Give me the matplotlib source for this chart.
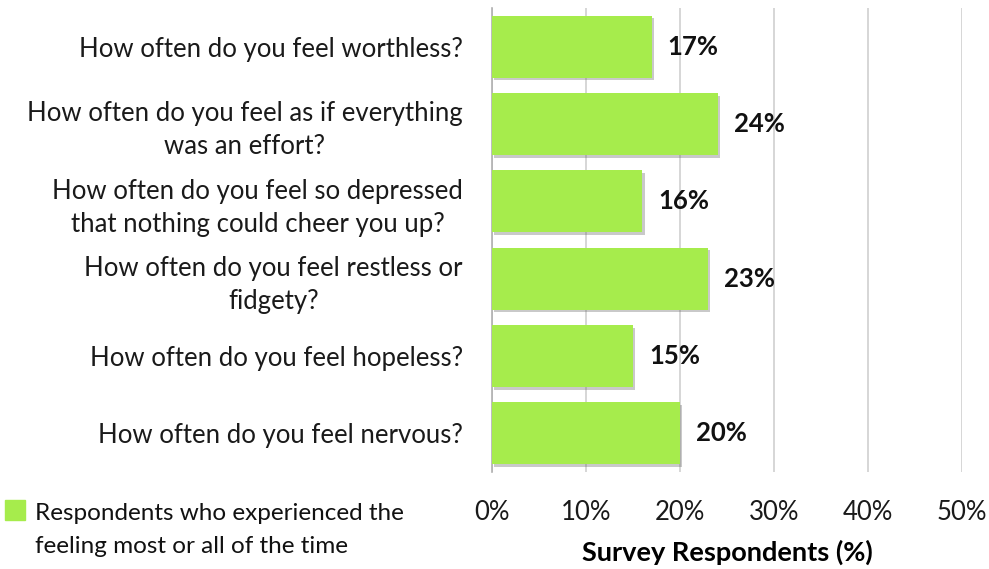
import numpy as np
import matplotlib.pyplot as plt
import matplotlib.patheffects as pe
from matplotlib.patches import Rectangle

# --- Data ---
questions = [
    "How often do you feel worthless?",
    "How often do you feel as if everything\nwas an effort?",
    "How often do you feel so depressed\nthat nothing could cheer you up?",
    "How often do you feel restless or\nfidgety?",
    "How often do you feel hopeless?",
    "How often do you feel nervous?",
]
values = [17, 24, 16, 23, 15, 20]
xticks = [0, 10, 20, 30, 40, 50]

plt.rcParams["font.family"] = ["Lato", "DejaVu Sans"]

fig = plt.figure(figsize=(9.89, 5.69), dpi=100)
ax = fig.add_axes([0.4975, 0.1705, 0.4752, 0.8155])

y = np.arange(len(questions))
bars = ax.barh(y, values, height=0.8, color="#a6ec4c", edgecolor="none", zorder=3)
for b in bars:
    b.set_path_effects([pe.SimplePatchShadow(offset=(1.5, -2), shadow_rgbFace="#666666", alpha=0.35),
                        pe.Normal()])

for yi, v in zip(y, values):
    ax.text(v + 1.7, yi, f"{v}%", va="center", ha="left", fontsize=18.5,
            fontweight="bold", color="#111111")

ax.set_xlim(0, 50)
ax.set_ylim(len(questions) - 0.5, -0.5)
ax.set_xticks(xticks)
ax.set_xticklabels([f"{t}%" for t in xticks], fontsize=18.5, color="#1a1a1a")
ax.set_yticks(y)
ax.set_yticklabels(questions, fontsize=18.5, color="#1a1a1a", multialignment="center",
                   linespacing=1.4)
ax.tick_params(axis="both", length=0)
ax.tick_params(axis="y", pad=21)
ax.tick_params(axis="x", pad=20)

ax.grid(axis="x", color="#d0d0d0", linewidth=1.2, zorder=0)
for s in ["top", "right", "bottom"]:
    ax.spines[s].set_visible(False)
ax.spines["left"].set_color("#b0b0b0")
ax.spines["left"].set_linewidth(1.2)

ax.set_xlabel("Survey Respondents (%)", fontsize=19.5, fontweight="bold", labelpad=11)

# legend
fig.patches.append(Rectangle((5 / 989, 1 - 520 / 569), 20 / 989, 20 / 569,
                             transform=fig.transFigure, color="#a6ec4c"))
fig.text(35 / 989, 1 - 503 / 569, "Respondents who experienced the\nfeeling most or all of the time",
         fontsize=17.5, va="top", ha="left", color="#111111", linespacing=1.7)

fig.savefig("out.png", dpi=100)
